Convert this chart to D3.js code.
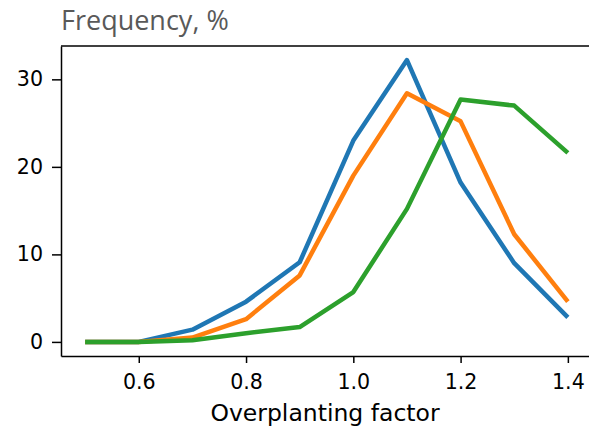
<!DOCTYPE html>
<html>
<head>
<meta charset="utf-8">
<script src="https://cdn.jsdelivr.net/npm/d3@7"></script>
<style>
  body { margin: 0; background: #fff; }
  svg { display: block; }
</style>
</head>
<body>
<div id="chart"></div>
<script>
'use strict';

// data
var factors = [0.5, 0.6, 0.7, 0.8, 0.9, 1.0, 1.1, 1.2, 1.3, 1.4];
var blueSeries = [0, 0, 1.4, 4.6, 9.1, 23.0, 32.2, 18.2, 9.0, 2.8];
var orangeSeries = [0, 0, 0.5, 2.6, 7.6, 19.0, 28.4, 25.2, 12.3, 4.6];
var greenSeries = [0, 0, 0.2, 1.0, 1.7, 5.7, 15.2, 27.7, 27.0, 21.6];
var xTicks = [0.6, 0.8, 1.0, 1.2, 1.4];
var yTicks = [0, 10, 20, 30];

InitChart();

function InitChart() {
	var WIDTH = 589,
		HEIGHT = 427;
	var margin = { left: 61, right: -3, top: 46, bottom: 71 };

	var svg = d3.select('#chart').append('svg')
		.attr('width', WIDTH)
		.attr('height', HEIGHT);

	var x = d3.scaleLinear()
		.domain([0.455, 1.445])
		.range([margin.left, WIDTH - margin.right]);

	var y = d3.scaleLinear()
		.domain([-1.61, 33.81])
		.range([HEIGHT - margin.bottom, margin.top]);

	var series = [
		{ values: blueSeries, color: '#1f77b4' },
		{ values: orangeSeries, color: '#ff7f0e' },
		{ values: greenSeries, color: '#2ca02c' }
	];

	var line = d3.line()
		.x(function(d, i) { return x(factors[i]); })
		.y(function(d) { return y(d); });

	svg.append('g').selectAll('path')
		.data(series)
		.enter().append('path')
			.attr('d', function(s) { return line(s.values); })
			.attr('fill', 'none')
			.attr('stroke', function(s) { return s.color; })
			.attr('stroke-width', 4.5)
			.attr('stroke-linejoin', 'round');

	// axes
	var xAxis = svg.append('g')
		.attr('transform', 'translate(0,' + (HEIGHT - margin.bottom) + ')')
		.call(d3.axisBottom(x).tickValues(xTicks).tickFormat(d3.format('.1f'))
			.tickSizeInner(7).tickSizeOuter(0).tickPadding(11));

	var yAxis = svg.append('g')
		.attr('transform', 'translate(' + margin.left + ',0)')
		.call(d3.axisLeft(y).tickValues(yTicks)
			.tickSizeInner(9).tickSizeOuter(0).tickPadding(9));

	[xAxis, yAxis].forEach(function(g) {
		g.selectAll('text')
			.attr('font-family', 'DejaVu Sans')
			.attr('font-size', 20.6)
			.attr('fill', '#000');
		g.selectAll('line').attr('stroke', '#000').attr('stroke-width', 1.5);
		g.select('.domain').attr('stroke', '#000').attr('stroke-width', 1.5);
	});

	// top spine
	svg.append('line')
		.attr('x1', margin.left)
		.attr('x2', WIDTH)
		.attr('y1', margin.top)
		.attr('y2', margin.top)
		.attr('stroke', '#000')
		.attr('stroke-width', 1.5);

	svg.append('text')
		.attr('x', 325)
		.attr('y', 421)
		.attr('text-anchor', 'middle')
		.attr('font-family', 'DejaVu Sans')
		.attr('font-size', 23.5)
		.text('Overplanting factor');

	svg.append('text')
		.attr('x', 61)
		.attr('y', 30)
		.attr('font-family', 'Open Sans')
		.attr('font-size', 27)
		.attr('fill', '#595959')
		.text('Frequency, %');
}
</script>
</body>
</html>
